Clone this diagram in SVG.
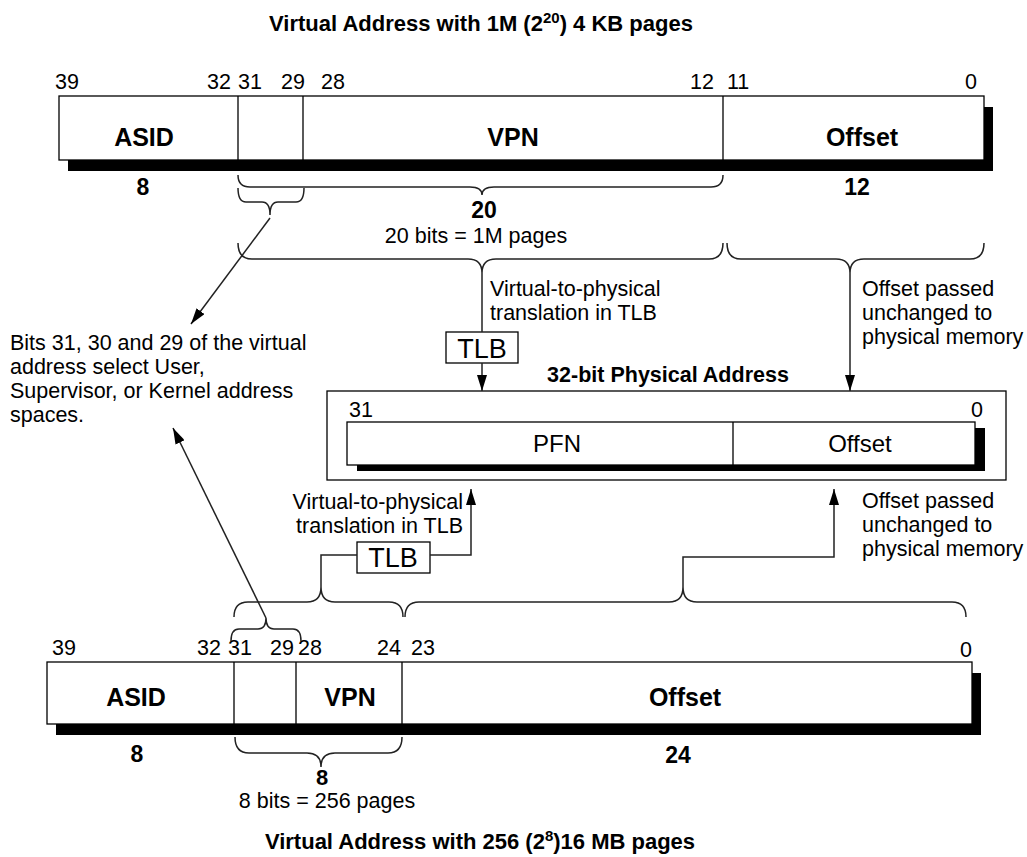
<svg xmlns="http://www.w3.org/2000/svg" width="1027" height="857" viewBox="0 0 1027 857">
<defs>
<style>
text{font-family:"Liberation Sans",Arial,sans-serif;fill:#000}
.n{font-size:21.5px}
.b{font-size:25px;font-weight:bold}
.w{font-size:23px;font-weight:bold}
.t{font-size:22px;font-weight:bold}
.m{text-anchor:middle}
.e{text-anchor:end}
.box{fill:#fff;stroke:#000;stroke-width:1.3}
.sh{fill:#000}
.div{stroke:#000;stroke-width:1.3}
.c{fill:none;stroke:#222;stroke-width:1.5}
</style>
<marker id="ah" viewBox="0 0 16 10" refX="16" refY="5" markerWidth="16" markerHeight="10" markerUnits="userSpaceOnUse" orient="auto">
<path d="M0,0 L16,5 L0,10 z" fill="#000"/>
</marker>
</defs>
<rect width="1027" height="857" fill="#fff"/>

<g id="title-top">
<text class="t m" x="481" y="31">Virtual Address with 1M (2<tspan font-size="15" dy="-8">20</tspan><tspan dy="8">) 4 KB pages</tspan></text>
</g>

<g id="va-top">
<rect class="sh" x="68" y="107" width="925" height="64"/>
<rect class="box" x="59" y="96" width="925" height="64"/>
<line class="div" x1="238" y1="96" x2="238" y2="160"/>
<line class="div" x1="303" y1="96" x2="303" y2="160"/>
<line class="div" x1="723" y1="96" x2="723" y2="160"/>
<text class="n" x="55" y="89">39</text>
<text class="n e" x="231" y="89">32</text>
<text class="n" x="238" y="89">31</text>
<text class="n e" x="305" y="89">29</text>
<text class="n" x="321" y="89">28</text>
<text class="n e" x="714" y="89">12</text>
<text class="n" x="727" y="89">11</text>
<text class="n e" x="977" y="89">0</text>
<text class="b m" x="144" y="146">ASID</text>
<text class="b m" x="513" y="146">VPN</text>
<text class="b m" x="862" y="146">Offset</text>
<text class="w m" x="143" y="195">8</text>
<text class="w m" x="857" y="195">12</text>
<text class="w m" x="484" y="218">20</text>
<text class="n m" x="476" y="243">20 bits = 1M pages</text>
</g>

<g id="note-bits">
<text class="n" x="10" y="350">Bits 31, 30 and 29 of the virtual</text>
<text class="n" x="10" y="374">address select User,</text>
<text class="n" x="10" y="398">Supervisor, or Kernel address</text>
<text class="n" x="10" y="422">spaces.</text>
</g>

<g id="label-upper-tlb">
<text class="n" x="490" y="296">Virtual-to-physical</text>
<text class="n" x="490" y="320">translation in TLB</text>
</g>
<g id="label-upper-offset">
<text class="n" x="862" y="296">Offset passed</text>
<text class="n" x="862" y="320">unchanged to</text>
<text class="n" x="862" y="344">physical memory</text>
</g>

<g id="tlb-upper">
<rect class="box" x="446" y="332" width="72" height="31"/>
<text class="m" x="482" y="358" font-size="27">TLB</text>
</g>

<g id="pa">
<text class="m" x="668" y="382" font-size="21.5" font-weight="bold">32-bit Physical Address</text>
<rect class="box" x="327" y="391" width="679" height="89"/>
<rect class="sh" x="357" y="428" width="628" height="43"/>
<rect class="box" x="347" y="422" width="628" height="43"/>
<line class="div" x1="733" y1="422" x2="733" y2="465"/>
<text class="n" x="349" y="417">31</text>
<text class="n e" x="983" y="417">0</text>
<text class="m" x="557" y="452" font-size="24">PFN</text>
<text class="m" x="860" y="452" font-size="24">Offset</text>
</g>

<g id="label-lower-tlb">
<text class="n e" x="463" y="509">Virtual-to-physical</text>
<text class="n e" x="463" y="533">translation in TLB</text>
</g>
<g id="label-lower-offset">
<text class="n" x="862" y="508">Offset passed</text>
<text class="n" x="862" y="532">unchanged to</text>
<text class="n" x="862" y="556">physical memory</text>
</g>

<g id="tlb-lower">
<rect class="box" x="357" y="542" width="73" height="31"/>
<text class="m" x="393" y="567" font-size="27">TLB</text>
</g>

<g id="va-bottom">
<rect class="sh" x="56" y="673" width="925" height="62"/>
<rect class="box" x="47" y="662" width="925" height="62"/>
<line class="div" x1="234" y1="662" x2="234" y2="724"/>
<line class="div" x1="296" y1="662" x2="296" y2="724"/>
<line class="div" x1="402" y1="662" x2="402" y2="724"/>
<text class="n" x="52" y="655">39</text>
<text class="n e" x="221" y="655">32</text>
<text class="n" x="228" y="655">31</text>
<text class="n e" x="294" y="655">29</text>
<text class="n" x="298" y="655">28</text>
<text class="n e" x="401" y="655">24</text>
<text class="n" x="411" y="655">23</text>
<text class="n e" x="972" y="657">0</text>
<text class="b m" x="136" y="706">ASID</text>
<text class="b m" x="350" y="706">VPN</text>
<text class="b m" x="685" y="706">Offset</text>
<text class="w m" x="137" y="762">8</text>
<text class="w m" x="678" y="763">24</text>
<text class="m" x="322" y="785" font-size="22" font-weight="bold">8</text>
<text class="n m" x="327" y="808">8 bits = 256 pages</text>
</g>

<g id="title-bottom">
<text class="t m" x="480" y="849">Virtual Address with 256 (2<tspan font-size="15" dy="-8">8</tspan><tspan dy="8">)16 MB pages</tspan></text>
</g>

<g id="connectors">
<path class="c" d="M238,175 Q238,187 250,187 L470,187 Q482,187 482,195 Q482,187 494,187 L711,187 Q723,187 723,175"/>
<path class="c" d="M238,188 Q238,202 246,202 L262,202 Q270,202 270,215 Q270,202 278,202 L296,202 Q304,202 304,188"/>
<path class="c" d="M238,243 Q238,259 252,259 L468,259 Q482,259 482,273 Q482,259 496,259 L709,259 Q723,259 723,243"/>
<path class="c" d="M727,243 Q727,259 741,259 L836,259 Q850,259 850,273 Q850,259 864,259 L970,259 Q984,259 984,243"/>
<path class="c" d="M234,617 Q234,602 248,602 L307,602 Q321,602 321,587 Q321,602 335,602 L389,602 Q403,602 403,617"/>
<path class="c" d="M405,617 Q405,602 419,602 L669,602 Q683,602 683,587 Q683,602 697,602 L952,602 Q966,602 966,617"/>
<path class="c" d="M231,641 Q231,629 239,629 L258,629 Q266,629 266,618 Q266,629 274,629 L293,629 Q301,629 301,641"/>
<path class="c" d="M235,737 Q235,753 249,753 L307,753 Q321,753 321,767 Q321,753 335,753 L388,753 Q402,753 402,737"/>
<line class="c" x1="270" y1="218" x2="191" y2="324" marker-end="url(#ah)"/>
<line class="c" x1="482" y1="273" x2="482" y2="332"/>
<line class="c" x1="482" y1="363" x2="482" y2="391" marker-end="url(#ah)"/>
<line class="c" x1="850" y1="273" x2="850" y2="391" marker-end="url(#ah)"/>
<line class="c" x1="266" y1="618" x2="173" y2="428" marker-end="url(#ah)"/>
<path class="c" d="M321,587 L321,555 L357,555"/>
<path class="c" d="M430,555 L471,555 L471,489" marker-end="url(#ah)"/>
<path class="c" d="M683,587 L683,557 L834,557 L834,489" marker-end="url(#ah)"/>
</g>
</svg>
